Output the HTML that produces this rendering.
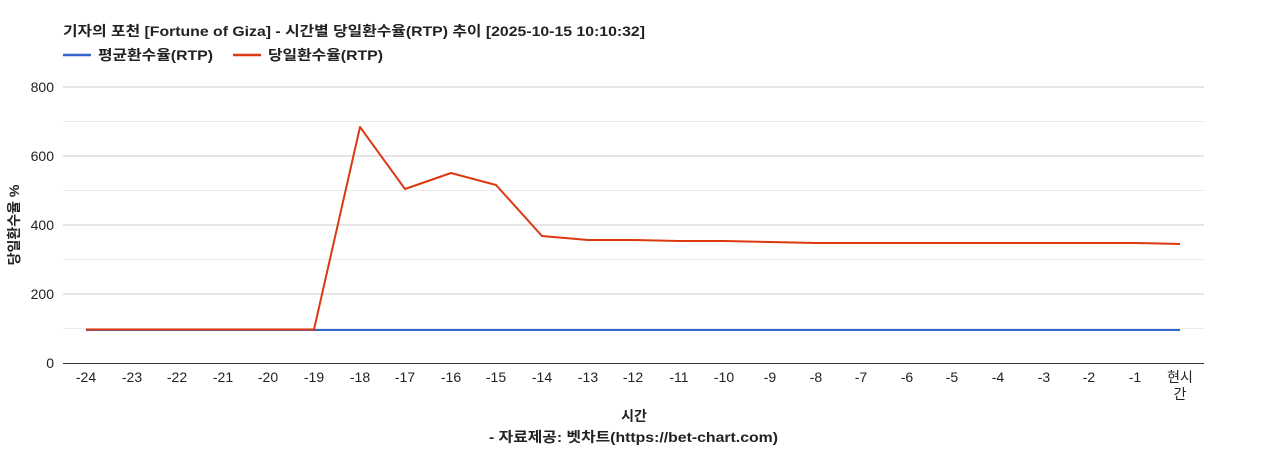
<!DOCTYPE html>
<html><head><meta charset="utf-8"><style>
body{margin:0;background:#fff;}
text{font-family:"Liberation Sans","Noto Sans CJK KR",sans-serif;}
</style></head><body>
<svg width="1268" height="450" xmlns="http://www.w3.org/2000/svg">
<rect width="1268" height="450" fill="#fff"/>
<text x="63" y="36" font-size="14" font-weight="bold" fill="#222" textLength="582" lengthAdjust="spacingAndGlyphs">기자의 포천 [Fortune of Giza] - 시간별 당일환수율(RTP) 추이 [2025-10-15 10:10:32]</text>
<line x1="63" y1="55" x2="91" y2="55" stroke="#3366cc" stroke-width="2.5"/>
<text x="98" y="60" font-size="14" font-weight="bold" fill="#222" textLength="115" lengthAdjust="spacingAndGlyphs">평균환수율(RTP)</text>
<line x1="233" y1="55" x2="261" y2="55" stroke="#dc3912" stroke-width="2.5"/>
<text x="268" y="60" font-size="14" font-weight="bold" fill="#222" textLength="115" lengthAdjust="spacingAndGlyphs">당일환수율(RTP)</text>
<g stroke="#ebebeb" stroke-width="1">
<line x1="63" y1="121.5" x2="1204" y2="121.5"/><line x1="63" y1="190.5" x2="1204" y2="190.5"/>
<line x1="63" y1="259.5" x2="1204" y2="259.5"/><line x1="63" y1="328.5" x2="1204" y2="328.5"/>
</g>
<g stroke="#cccccc" stroke-width="1">
<line x1="63" y1="87" x2="1204" y2="87"/><line x1="63" y1="156" x2="1204" y2="156"/>
<line x1="63" y1="225" x2="1204" y2="225"/><line x1="63" y1="294" x2="1204" y2="294"/>
</g>
<line x1="63" y1="363.5" x2="1204" y2="363.5" stroke="#333"/>
<g font-size="14" fill="#222" text-anchor="end">
<text x="54" y="92">800</text><text x="54" y="161">600</text><text x="54" y="230">400</text><text x="54" y="299">200</text><text x="54" y="368">0</text>
</g>
<g font-size="14" fill="#222" text-anchor="middle">
<text x="86" y="382">-24</text><text x="132" y="382">-23</text><text x="177" y="382">-22</text><text x="223" y="382">-21</text><text x="268" y="382">-20</text><text x="314" y="382">-19</text><text x="360" y="382">-18</text><text x="405" y="382">-17</text><text x="451" y="382">-16</text><text x="496" y="382">-15</text><text x="542" y="382">-14</text><text x="588" y="382">-13</text><text x="633" y="382">-12</text><text x="679" y="382">-11</text><text x="724" y="382">-10</text><text x="770" y="382">-9</text><text x="816" y="382">-8</text><text x="861" y="382">-7</text><text x="907" y="382">-6</text><text x="952" y="382">-5</text><text x="998" y="382">-4</text><text x="1044" y="382">-3</text><text x="1089" y="382">-2</text><text x="1135" y="382">-1</text><text x="1180" y="382">현시</text><text x="1180" y="399">간</text>
</g>
<text x="634" y="421" font-size="14" font-weight="bold" text-anchor="middle" fill="#222">시간</text>
<text x="489" y="442" font-size="14" font-weight="bold" fill="#222" textLength="289" lengthAdjust="spacingAndGlyphs">- 자료제공: 벳차트(https://bet-chart.com)</text>
<text transform="translate(19,225) rotate(-90)" font-size="14" font-weight="bold" text-anchor="middle" fill="#222">당일환수율 %</text>
<polyline fill="none" stroke="#3366cc" stroke-width="2" points="86,330 1180,330"/>
<polyline fill="none" stroke="#dc3912" stroke-width="2" stroke-linejoin="round" points="86,329.5 132,329.5 177,329.5 223,329.5 268,329.5 314,329.5 360,127 405,189 451,173 496,185 542,236 588,240 633,240 679,241 724,241 770,242 816,243 861,243 907,243 952,243 998,243 1044,243 1089,243 1135,243 1180,244"/>
</svg>
</body></html>
